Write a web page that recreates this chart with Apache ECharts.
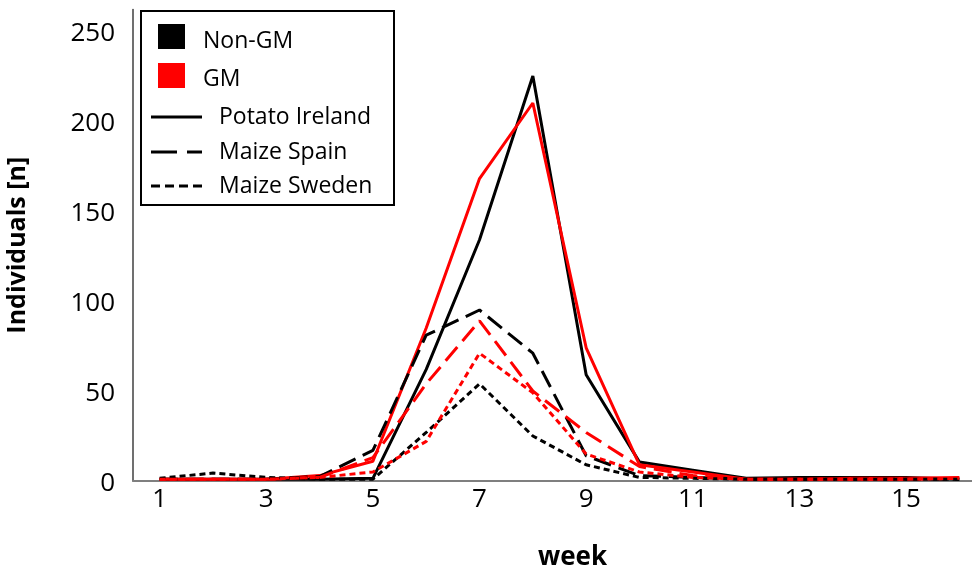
<!DOCTYPE html>
<html>
<head>
<meta charset="utf-8">
<script src="https://cdn.jsdelivr.net/npm/echarts@6/dist/echarts.min.js"></script>
<style>html,body{margin:0;padding:0;background:#fff}#c{width:972px;height:575px}</style>
</head>
<body>
<div id="c"></div>
<script>
const weeks = ['1','2','3','4','5','6','7','8','9','10','11','12','13','14','15','16'];
const potatoNonGM = [1,1,1,1,1.5,62,134,225,59,10.5,6,1.5,2,2,2,1];
const potatoGM    = [1,1,1,3,11,85,168,210,74,9,5,1,1,1.5,1.5,2];
const spainNonGM  = [1,1,1,2.5,17,81,95,71,14,3,2,1,1,1,1,1];
const spainGM     = [1,1,1,2,13,54,89,50,27,8,3,1,1,1,1,1.5];
const swedenNonGM = [1.5,4.4,2,1,1,27,54,25,9,2,1.5,1,1,1,1,1];
const swedenGM    = [1,1,1,2,5,22,71,49,15,5,2,1,1,1,1,1.5];
const yTicks = [0,50,100,150,200,250];

const FONT = 'Open Sans';
const BLACK = '#000000', RED = '#ff0000';
const dashLong = [18, 8];
const dashShort = [6, 4];

function mk(name, data, color, type) {
  return {
    name, type: 'line', data, symbol: 'none', smooth: false,
    lineStyle: { color, width: 3, type: type, cap: 'butt' },
    itemStyle: { color }, silent: true
  };
}

const chart = echarts.init(document.getElementById('c'));
chart.setOption({
  animation: false,
  backgroundColor: '#fff',
  grid: { left: 133, top: 9.4, width: 853, height: 471.6, containLabel: false, outerBoundsMode: 'none' },
  xAxis: {
    type: 'category', data: weeks, boundaryGap: true,
    name: 'week', nameLocation: 'middle', nameGap: 64,
    nameTextStyle: { fontFamily: FONT, fontSize: 26, fontWeight: 'bold', color: '#000', padding: [0, 0, 0, 26] },
    axisLine: { lineStyle: { color: '#7f7f7f', width: 2 } },
    axisTick: { show: false },
    axisLabel: { interval: 1, fontFamily: FONT, fontSize: 26, color: '#000', margin: 6 },
    splitLine: { show: false }
  },
  yAxis: {
    type: 'value', min: 0, max: 262, interval: 50,
    name: 'Individuals [n]', nameLocation: 'middle', nameGap: 103, nameRotate: 90,
    nameTextStyle: { fontFamily: FONT, fontSize: 25, fontWeight: 'bold', color: '#000' },
    axisLine: { show: true, lineStyle: { color: '#404040', width: 1.5 } },
    axisTick: { show: false },
    axisLabel: { fontFamily: FONT, fontSize: 26, color: '#000', margin: 18, showMaxLabel: false,
      formatter: v => yTicks.includes(v) ? '{t|' + v + '}' : '',
      rich: { t: { fontFamily: FONT, fontSize: 26, color: '#000', padding: [6, 0, 0, 0] } } },
    splitLine: { show: false }
  },
  series: [
    mk('Potato Ireland non-GM', potatoNonGM, BLACK, 'solid'),
    mk('Potato Ireland GM', potatoGM, RED, 'solid'),
    mk('Maize Spain non-GM', spainNonGM, BLACK, dashLong),
    mk('Maize Spain GM', spainGM, RED, dashLong),
    mk('Maize Sweden non-GM', swedenNonGM, BLACK, dashShort),
    mk('Maize Sweden GM', swedenGM, RED, dashShort)
  ],
  graphic: [
    { type: 'rect', shape: { x: 141, y: 11, width: 253, height: 194 },
      style: { fill: '#fff', stroke: '#000', lineWidth: 2 }, z: 100 },
    { type: 'rect', shape: { x: 158, y: 24, width: 27, height: 25 }, style: { fill: BLACK }, z: 101 },
    { type: 'text', x: 203, y: 41, style: { text: 'Non-GM', fontFamily: FONT, fontSize: 23, fill: '#000', verticalAlign: 'middle' }, z: 101 },
    { type: 'rect', shape: { x: 158, y: 63, width: 27, height: 25 }, style: { fill: RED }, z: 101 },
    { type: 'text', x: 203, y: 79, style: { text: 'GM', fontFamily: FONT, fontSize: 23, fill: '#000', verticalAlign: 'middle' }, z: 101 },
    { type: 'line', shape: { x1: 151, y1: 117, x2: 202, y2: 117 }, style: { stroke: '#000', lineWidth: 3 }, z: 101 },
    { type: 'text', x: 219, y: 117, style: { text: 'Potato Ireland', fontFamily: FONT, fontSize: 23, fill: '#000', verticalAlign: 'middle' }, z: 101 },
    { type: 'line', shape: { x1: 151, y1: 152, x2: 202, y2: 152 }, style: { stroke: '#000', lineWidth: 3, lineDash: [26, 10] }, z: 101 },
    { type: 'text', x: 219, y: 152, style: { text: 'Maize Spain', fontFamily: FONT, fontSize: 23, fill: '#000', verticalAlign: 'middle' }, z: 101 },
    { type: 'line', shape: { x1: 151, y1: 186, x2: 202, y2: 186 }, style: { stroke: '#000', lineWidth: 3, lineDash: [9, 5] }, z: 101 },
    { type: 'text', x: 219, y: 186, style: { text: 'Maize Sweden', fontFamily: FONT, fontSize: 23, fill: '#000', verticalAlign: 'middle' }, z: 101 }
  ]
});
</script>
</body>
</html>
